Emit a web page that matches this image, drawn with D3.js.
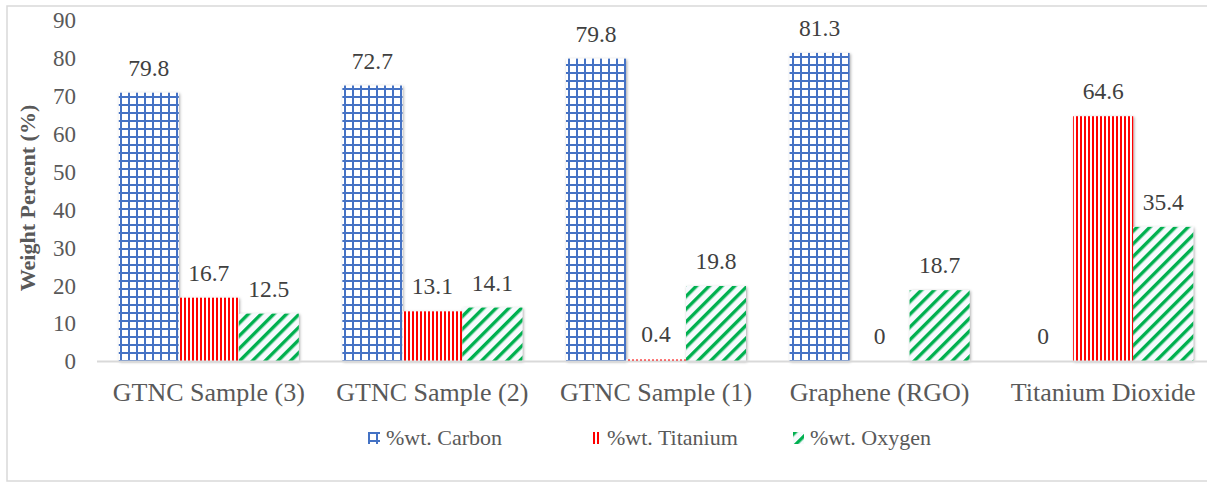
<!DOCTYPE html>
<html lang="en">
<head>
<meta charset="UTF-8">
<title>Weight Percent</title>
<script src="https://d3js.org/d3.v7.min.js"></script>
</head>
<body style="margin:0; background:#fff">
<svg id="chart"></svg>
<script>
const categories = ["GTNC Sample (3)", "GTNC Sample (2)", "GTNC Sample (1)", "Graphene (RGO)", "Titanium Dioxide"];
const seriesNames = ["%wt. Carbon", "%wt. Titanium", "%wt. Oxygen"];
// bar heights as drawn
const carbon = [70.8, 72.7, 79.8, 81.3, 0];
const titanium = [16.7, 13.1, 0.4, 0, 64.6];
const oxygen = [12.5, 14.1, 19.8, 18.7, 35.4];
// value labels as printed
const carbonLabels = ["79.8", "72.7", "79.8", "81.3", "0"];
const titaniumLabels = ["16.7", "13.1", "0.4", "0", "64.6"];
const oxygenLabels = ["12.5", "14.1", "19.8", "18.7", "35.4"];
const yTicks = [0, 10, 20, 30, 40, 50, 60, 70, 80, 90];

const FONT = "'Liberation Serif', 'Times New Roman', serif";
const W = 1207, H = 483;
const svg = d3.select("#chart").attr("width", W).attr("height", H)
  .style("font-family", FONT);

// outer frame
svg.append("rect")
  .attr("x", 7).attr("y", 6)
  .attr("width", W + 10).attr("height", H - 8)
  .attr("fill", "none").attr("stroke", "#d9d9d9").attr("stroke-width", 1.5);

const defs = svg.append("defs");

const fs = defs.append("filter").attr("id", "shadow")
  .attr("x", "-20%").attr("y", "-20%").attr("width", "140%").attr("height", "140%");
fs.append("feDropShadow").attr("dx", 1).attr("dy", 1).attr("stdDeviation", 1.6)
  .attr("flood-color", "#000").attr("flood-opacity", 0.35);

// carbon: blue grid
const pc = defs.append("pattern").attr("id", "pat-carbon")
  .attr("patternUnits", "userSpaceOnUse").attr("width", 8).attr("height", 8);
pc.append("rect").attr("width", 8).attr("height", 8).attr("fill", "#fff");
pc.append("rect").attr("x", 0).attr("y", 0).attr("width", 8).attr("height", 2).attr("fill", "#4472c4");
pc.append("rect").attr("x", 0).attr("y", 0).attr("width", 2).attr("height", 8).attr("fill", "#4472c4");

// titanium: red vertical stripes
const pt = defs.append("pattern").attr("id", "pat-titanium")
  .attr("patternUnits", "userSpaceOnUse").attr("width", 4).attr("height", 4);
pt.append("rect").attr("width", 4).attr("height", 4).attr("fill", "#fff");
pt.append("rect").attr("x", 0).attr("width", 2).attr("height", 4).attr("fill", "#ff0000");

// oxygen: green diagonal stripes
const po = defs.append("pattern").attr("id", "pat-oxygen")
  .attr("patternUnits", "userSpaceOnUse").attr("width", 9).attr("height", 9)
  .attr("patternTransform", "rotate(45)");
po.append("rect").attr("width", 9).attr("height", 9).attr("fill", "#f7fafd");
po.append("rect").attr("x", 0).attr("width", 3.4).attr("height", 9).attr("fill", "#00b050");

const fills = ["url(#pat-carbon)", "url(#pat-titanium)", "url(#pat-oxygen)"];
const seriesValues = [carbon, titanium, oxygen];
const seriesLabels = [carbonLabels, titaniumLabels, oxygenLabels];

const plot = { left: 97, right: 1215, top: 20, bottom: 361 };

const x0 = d3.scaleBand()
  .domain(categories)
  .range([plot.left, plot.right])
  .paddingInner(0.195)
  .paddingOuter(0.0975);

const x1 = d3.scaleBand()
  .domain(seriesNames)
  .range([0, x0.bandwidth()])
  .padding(0);

const y = d3.scaleLinear()
  .domain([0, 90])
  .range([plot.bottom, plot.top]);

// y tick labels
const yAxis = svg.append("g")
  .attr("transform", `translate(${plot.left}, 0)`)
  .call(d3.axisLeft(y).tickValues(yTicks).tickSize(0).tickPadding(21));
yAxis.select(".domain").remove();
yAxis.selectAll("text")
  .style("font-family", FONT)
  .style("font-size", "23px")
  .attr("dy", "0.34em")
  .attr("fill", "#595959");

// bars
const rows = [];
categories.forEach((c, i) => {
  seriesNames.forEach((s, j) => {
    rows.push({ cat: c, series: s, j: j, value: seriesValues[j][i], label: seriesLabels[j][i] });
  });
});

svg.append("g").selectAll("rect")
  .data(rows.filter(d => d.value > 0))
  .join("rect")
  .attr("x", d => x0(d.cat) + x1(d.series))
  .attr("y", d => y(d.value))
  .attr("width", x1.bandwidth())
  .attr("height", d => y(0) - y(d.value))
  .attr("fill", d => fills[d.j])
  .attr("filter", d => d.value > 2 ? "url(#shadow)" : null);

// baseline
svg.append("line")
  .attr("x1", plot.left).attr("x2", W)
  .attr("y1", plot.bottom + 0.5).attr("y2", plot.bottom + 0.5)
  .attr("stroke", "#d9d9d9").attr("stroke-width", 2);

// value labels
svg.append("g").selectAll("text")
  .data(rows)
  .join("text")
  .attr("x", d => x0(d.cat) + x1(d.series) + x1.bandwidth() / 2)
  .attr("y", d => y(d.value) - 17)
  .attr("text-anchor", "middle")
  .style("font-family", FONT)
  .style("font-size", "23.5px")
  .attr("fill", "#404040")
  .text(d => d.label);

// category labels
svg.append("g").selectAll("text")
  .data(categories)
  .join("text")
  .attr("x", d => x0(d) + x0.bandwidth() / 2)
  .attr("y", 401)
  .attr("text-anchor", "middle")
  .style("font-family", FONT)
  .style("font-size", "26px")
  .attr("fill", "#595959")
  .text(d => d);

// y axis title
svg.append("text")
  .attr("transform", "translate(35, 198) rotate(-90)")
  .attr("text-anchor", "middle")
  .style("font-family", FONT)
  .style("font-size", "22px")
  .style("font-weight", "bold")
  .attr("fill", "#595959")
  .text("Weight Percent (%)");

// legend
const legendX = [368, 593, 793];
const legendW = [12, 8, 11];
const legend = svg.append("g").selectAll("g")
  .data(seriesNames)
  .join("g")
  .attr("transform", (d, i) => `translate(${legendX[i]}, 432)`);
legend.append("rect")
  .attr("width", (d, i) => legendW[i]).attr("height", 12)
  .attr("fill", (d, i) => fills[i]);
legend.append("text")
  .attr("x", (d, i) => legendW[i] + 6).attr("y", 13)
  .style("font-family", FONT)
  .style("font-size", "22px")
  .attr("fill", "#595959")
  .text(d => d);
</script>
</body>
</html>
